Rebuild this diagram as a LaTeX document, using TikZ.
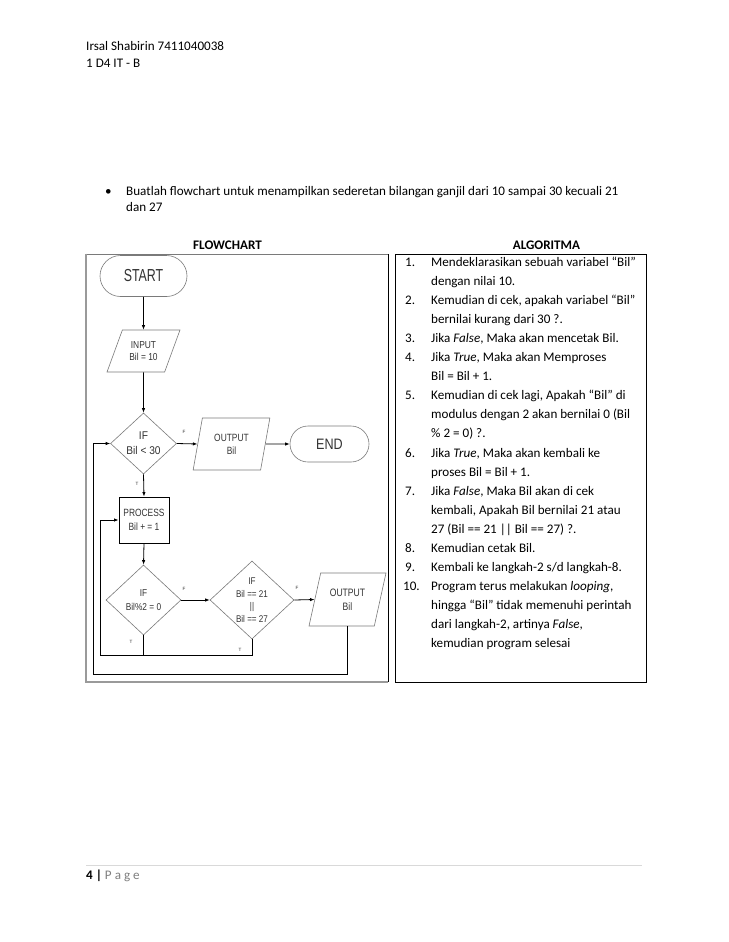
\documentclass[tikz,border=0pt]{standalone}
\usepackage{fontspec}
\setmainfont{Carlito}
\newfontfamily\arialf{Liberation Sans}
\usetikzlibrary{shapes.geometric,arrows.meta}
\definecolor{shapegray}{HTML}{7A7A7A}
\definecolor{txtgray}{HTML}{333333}
\definecolor{framegray}{HTML}{9A9A9A}
\definecolor{pagegray}{HTML}{7F7F7F}
\definecolor{rulegray}{HTML}{D9D9D9}
\newcommand{\vstretch}[2]{\scalebox{1}[#1]{#2}}
\begin{document}
\begin{tikzpicture}[x=1pt,y=-1pt,
  body/.style={font=\fontsize{13.1}{15.7}\selectfont, inner sep=0, anchor=base west},
  fc/.style={font=\arialf\fontsize{8.4}{12.6}\selectfont, text=txtgray, align=center, inner sep=0},
  term/.style={draw=shapegray, line width=0.6, rectangle, inner sep=0},
  io/.style={trapezium, draw=shapegray, line width=0.6, trapezium stretches=true, inner sep=0},
  dia/.style={diamond, draw=shapegray, line width=0.6, inner sep=0},
  proc/.style={draw=black, line width=0.8, rectangle, inner sep=0},
  arr/.style={draw=black, line width=0.8, -{Latex[length=4.5,width=3.4]}},
  ln/.style={draw=black, line width=0.8},
  tf/.style={font=\arialf\fontsize{4.6}{5}\selectfont, text=txtgray, inner sep=0}
]
\useasboundingbox (0,0) rectangle (728,942);
\fill[white] (0,0) rectangle (728,942);

% header
\node[body] (h1) at (86,51) {Irsal Shabirin 7411040038};
\node[body] (h2) at (86,67) {1 D4 IT - B};

% question
\node[body] (bul) at (105,195.5) {\textbullet};
\node[body] (q1) at (126,195.5) {Buatlah flowchart untuk menampilkan sederetan bilangan ganjil dari 10 sampai 30 kecuali 21};
\node[body] (q2) at (126,211.5) {dan 27};

% headings
\node[body, anchor=base] (fch) at (227.5,249) {\bfseries FLOWCHART};
\node[body, anchor=base] (alh) at (546.5,249) {\bfseries ALGORITMA};

% frames
\draw[draw=shapegray, line width=0.8] (86,254) -- (388.3,254);
\draw[draw=framegray, line width=2] (86,253.6) -- (86,682) -- (388.3,682);
\draw[black, line width=0.9] (388.3,254) -- (388.3,682);
\draw[black, line width=0.9] (395.7,254) rectangle (646.7,682);

% flowchart nodes
\node[term, rounded corners=20.5, minimum width=87, minimum height=41] (start) at (143.5,276)
  {\arialf\fontsize{12.4}{14}\selectfont\color{txtgray}\vstretch{1.4}{START}};
\node[io, fc, trapezium left angle=62.4, trapezium right angle=117.6, minimum width=73, minimum height=42] (inp) at (143.5,351)
  {\vstretch{1.2}{INPUT}\\\vstretch{1.2}{Bil = 10}};
\node[dia, minimum width=66, minimum height=61] (d1) at (143.5,443.5) {};
\node[fc, font=\arialf\fontsize{10.2}{15}\selectfont] (d1t) at (d1.center) {\vstretch{1.1}{IF}\\\vstretch{1.1}{Bil < 30}};
\node[io, fc, trapezium left angle=74.9, trapezium right angle=105.1, minimum width=77, minimum height=52, font=\arialf\fontsize{8.4}{13}\selectfont] (o1) at (231.5,444)
  {\vstretch{1.25}{OUTPUT}\\\vstretch{1.25}{Bil}};
\node[term, rounded corners=18, minimum width=79, minimum height=36] (end) at (329.5,444)
  {\arialf\fontsize{12.6}{14}\selectfont\color{txtgray}\vstretch{1.2}{END}};
\node[proc, fc, minimum width=50, minimum height=46, font=\arialf\fontsize{8.4}{14}\selectfont] (p) at (144,520)
  {\vstretch{1.25}{PROCESS}\\\vstretch{1.25}{Bil + = 1}};
\node[dia, minimum width=75, minimum height=70] (d2) at (143.5,600) {};
\node[fc, font=\arialf\fontsize{8.3}{14}\selectfont] (d2t) at (d2.center) {\vstretch{1.2}{IF}\\\vstretch{1.2}{Bil\%2 = 0}};
\node[dia, minimum width=84, minimum height=78] (d3) at (252,600) {};
\node[fc, font=\arialf\fontsize{8.1}{12.7}\selectfont] (d3t) at (d3.center)
  {\vstretch{1.2}{IF}\\\vstretch{1.2}{Bil == 21}\\\vstretch{1.2}{||}\\\vstretch{1.2}{Bil == 27}};
\node[io, fc, trapezium left angle=70.3, trapezium right angle=109.7, minimum width=77, minimum height=53, font=\arialf\fontsize{8.6}{14}\selectfont] (o2) at (347.5,599.5)
  {\vstretch{1.25}{OUTPUT}\\\vstretch{1.25}{Bil}};

% connectors
\draw[arr] (start.south) -- (inp.north);
\draw[arr] (inp.south) -- (d1.north);
\draw[arr] (d1.east) -- (o1.west);
\draw[arr] (o1.east) -- (end.west);
\draw[arr] (d1.south) -- (p.north);
\draw[arr] (p.south) -- (d2.north);
\draw[arr] (d2.east) -- (d3.west);
\draw[arr] (d3.east) -- (o2.west);
\coordinate (l2) at (100,655);
\coordinate (l1) at (93,674);
\draw[ln] (d2.south) -- (d2.south |- l2);
\draw[arr] (d3.south) |- (l2) |- (p.west);
\draw[arr] (o2.center |- o2.south) -- (o2.center |- l1) -- (l1) |- (d1.west);

% T/F labels
\node[tf] (f1) at (184,432) {F};
\node[tf] (t1) at (137,484) {T};
\node[tf] (f2) at (184,589) {F};
\node[tf] (f3) at (297,588) {F};
\node[tf] (t2) at (131,642) {T};
\node[tf] (t3) at (240,650) {T};

% algorithm
\node[body] (n1) at (405,266.5) {1.};
\node[body] (a0) at (431,266.5) {Mendeklarasikan sebuah variabel “Bil”};
\node[body] (a1) at (431,285.55) {dengan nilai 10.};
\node[body] (n2) at (405,304.6) {2.};
\node[body] (a2) at (431,304.6) {Kemudian di cek, apakah variabel “Bil”};
\node[body] (a3) at (431,323.65) {bernilai kurang dari 30 ?.};
\node[body] (n3) at (405,342.7) {3.};
\node[body] (a4) at (431,342.7) {Jika \textit{False}, Maka akan mencetak Bil.};
\node[body] (n4) at (405,361.75) {4.};
\node[body] (a5) at (431,361.75) {Jika \textit{True}, Maka akan Memproses};
\node[body] (a6) at (431,380.8) {Bil = Bil + 1.};
\node[body] (n5) at (405,399.85) {5.};
\node[body] (a7) at (431,399.85) {Kemudian di cek lagi, Apakah “Bil” di};
\node[body] (a8) at (431,418.9) {modulus dengan 2 akan bernilai 0 (Bil};
\node[body] (a9) at (431,437.95) {\% 2 = 0) ?.};
\node[body] (n6) at (405,457.0) {6.};
\node[body] (a10) at (431,457.0) {Jika \textit{True}, Maka akan kembali ke};
\node[body] (a11) at (431,476.05) {proses Bil = Bil + 1.};
\node[body] (n7) at (405,495.1) {7.};
\node[body] (a12) at (431,495.1) {Jika \textit{False}, Maka Bil akan di cek};
\node[body] (a13) at (431,514.15) {kembali, Apakah Bil bernilai 21 atau};
\node[body] (a14) at (431,533.2) {27 (Bil == 21 || Bil == 27) ?.};
\node[body] (n8) at (405,552.25) {8.};
\node[body] (a15) at (431,552.25) {Kemudian cetak Bil.};
\node[body] (n9) at (405,571.3) {9.};
\node[body] (a16) at (431,571.3) {Kembali ke langkah-2 s/d langkah-8.};
\node[body] (n10) at (403,590.35) {10.};
\node[body] (a17) at (431,590.35) {Program terus melakukan \textit{looping},};
\node[body] (a18) at (431,609.4) {hingga “Bil” tidak memenuhi perintah};
\node[body] (a19) at (431,628.45) {dari langkah-2, artinya \textit{False},};
\node[body] (a20) at (431,647.5) {kemudian program selesai};

% footer
\draw[rulegray, line width=0.8] (86,865) -- (642,865);
\node[body] (pg) at (86,879.5) {\textbf{4 |} \textcolor{pagegray}{P\hspace{3pt}a\hspace{3pt}g\hspace{3pt}e}};
\end{tikzpicture}
\end{document}
